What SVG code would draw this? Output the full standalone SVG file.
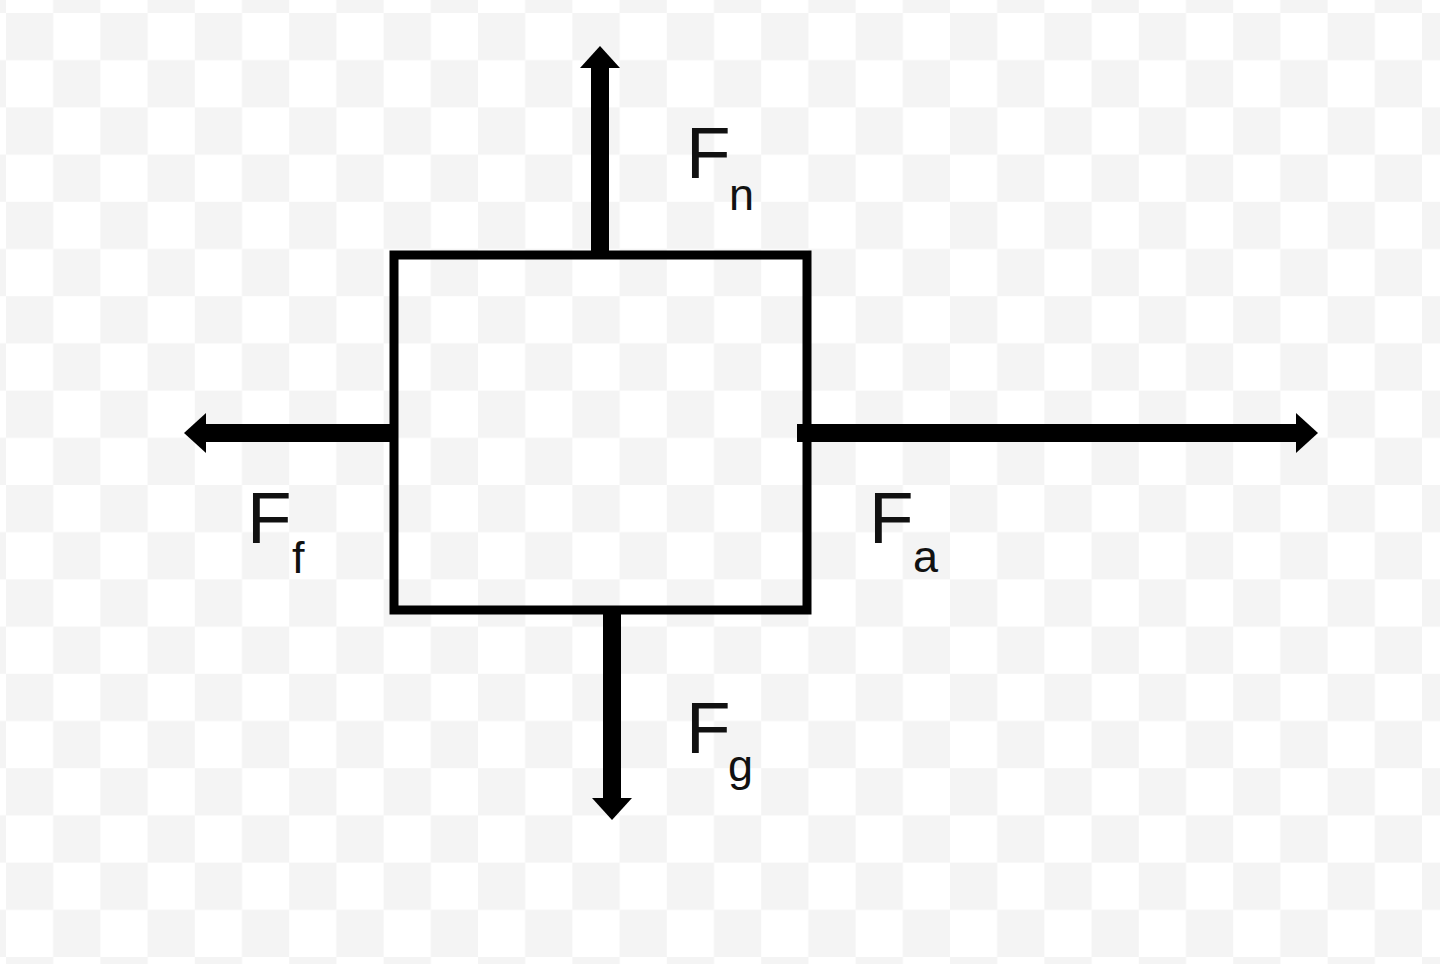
<svg xmlns="http://www.w3.org/2000/svg" width="1440" height="964" viewBox="0 0 1440 964">
  <style>
    .lbl { font-family: "Liberation Sans", Arial, sans-serif; fill: #111; }
    .big { font-size: 73px; }
    .sub { font-size: 45px; }
    .force { stroke: #000; stroke-width: 18; fill: none; }
  </style>
  <defs>
    <pattern id="checker" patternUnits="userSpaceOnUse" x="6" y="13" width="94.4" height="94.4">
      <rect x="0" y="0" width="94.4" height="94.4" fill="#ffffff"/>
      <rect x="0" y="0" width="47.2" height="47.2" fill="#f4f4f4"/>
      <rect x="47.2" y="47.2" width="47.2" height="47.2" fill="#f4f4f4"/>
    </pattern>
    <marker id="head" markerUnits="userSpaceOnUse" markerWidth="24" markerHeight="42" refX="0" refY="20" orient="auto" viewBox="0 0 24 40">
      <path d="M0,0 L22,20 L0,40 Z" fill="#000"/>
    </marker>
  </defs>
  <rect x="0" y="0" width="1440" height="964" fill="url(#checker)"/>

  <g id="block">
    <rect x="394" y="255" width="413" height="355" fill="none" stroke="#000" stroke-width="9"/>
  </g>

  <g id="connectors">
    <line class="force" x1="600" y1="255" x2="600" y2="68" marker-end="url(#head)"/>
    <line class="force" x1="393" y1="433" x2="206" y2="433" marker-end="url(#head)"/>
    <line class="force" x1="797" y1="433" x2="1296" y2="433" marker-end="url(#head)"/>
    <line class="force" x1="612" y1="610" x2="612" y2="798" marker-end="url(#head)"/>
  </g>

  <g id="label-Fn">
    <text class="lbl big" x="686" y="178">F</text>
    <text class="lbl sub" x="729" y="210">n</text>
  </g>
  <g id="label-Ff">
    <text class="lbl big" x="247" y="543">F</text>
    <text class="lbl sub" x="292" y="573">f</text>
  </g>
  <g id="label-Fa">
    <text class="lbl big" x="869" y="543">F</text>
    <text class="lbl sub" x="913" y="572">a</text>
  </g>
  <g id="label-Fg">
    <text class="lbl big" x="686" y="753">F</text>
    <text class="lbl sub" x="728" y="781">g</text>
  </g>
</svg>
